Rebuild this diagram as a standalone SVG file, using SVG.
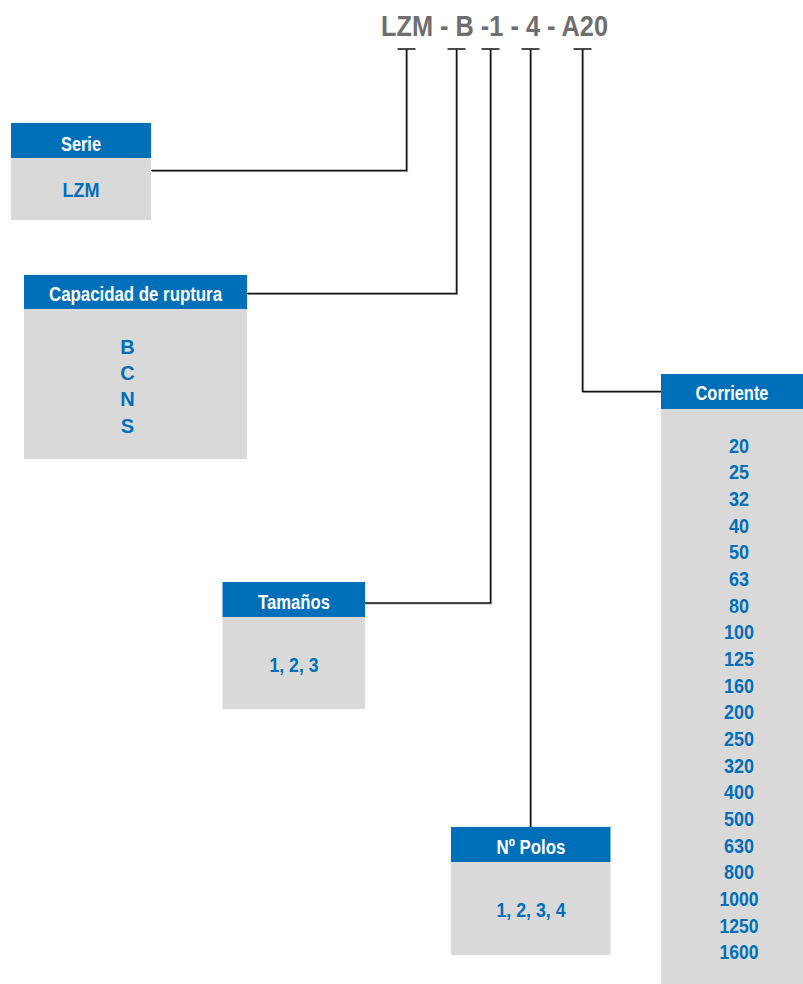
<svg xmlns="http://www.w3.org/2000/svg" width="803" height="984" viewBox="0 0 803 984">
<style>
.hd{fill:#006fba}
.bd{fill:#d9d9d9}
.ht{font-family:"Liberation Sans",Arial,sans-serif;font-weight:bold;font-size:20px;fill:#fff;text-anchor:middle}
.bt{font-family:"Liberation Sans",Arial,sans-serif;font-weight:bold;font-size:20px;fill:#006fba;text-anchor:middle}
.tt{font-family:"Liberation Sans",Arial,sans-serif;font-weight:bold;font-size:30px;fill:#6e6e6e}
.ln{fill:none;stroke:#111;stroke-width:1.5}
.sh{fill:none;stroke:#aaa;stroke-width:1.2}
</style>
<rect width="803" height="984" fill="#fff"/>
<g id="title">
<text class="tt" x="381" y="36" textLength="227" lengthAdjust="spacingAndGlyphs" xml:space="preserve">LZM - B -1 - 4 - A20</text>
</g>
<g id="connectors">
<polyline class="sh" points="152,171.5 407.5,171.5 407.5,50"/>
<polyline class="sh" points="248,294.5 457.5,294.5 457.5,50"/>
<polyline class="sh" points="366,604 491.5,604 491.5,50"/>
<polyline class="sh" points="531.5,827 531.5,50"/>
<polyline class="sh" points="661,392.5 583.5,392.5 583.5,50"/>
<polyline class="ln" points="151,170.5 406.5,170.5 406.5,49"/>
<polyline class="ln" points="247,293.5 456.5,293.5 456.5,49"/>
<polyline class="ln" points="365,603 490.5,603 490.5,49"/>
<polyline class="ln" points="530.5,827 530.5,49"/>
<polyline class="ln" points="661,391.5 582.5,391.5 582.5,49"/>
<line class="ln" x1="397.5" y1="49" x2="415.5" y2="49"/>
<line class="ln" x1="447.5" y1="49" x2="465.5" y2="49"/>
<line class="ln" x1="481.5" y1="49" x2="499.5" y2="49"/>
<line class="ln" x1="521.5" y1="49" x2="539.5" y2="49"/>
<line class="ln" x1="573.5" y1="49" x2="591.5" y2="49"/>
</g>
<g id="serie">
<rect class="hd" x="11" y="123" width="140" height="35"/>
<rect class="bd" x="11" y="158" width="140" height="62"/>
<text class="ht" x="81" y="150.5" textLength="40" lengthAdjust="spacingAndGlyphs">Serie</text>
<text class="bt" x="81" y="197" textLength="37" lengthAdjust="spacingAndGlyphs">LZM</text>
</g>
<g id="capacidad">
<rect class="hd" x="24" y="275" width="223" height="34"/>
<rect class="bd" x="24" y="309" width="223" height="150"/>
<text class="ht" x="135.5" y="300.5" textLength="173" lengthAdjust="spacingAndGlyphs">Capacidad de ruptura</text>
<text class="bt" x="127.5" y="353.5">B</text>
<text class="bt" x="127.5" y="380">C</text>
<text class="bt" x="127.5" y="406">N</text>
<text class="bt" x="127.5" y="432.5">S</text>
</g>
<g id="tamanos">
<rect class="hd" x="222.5" y="582" width="142.5" height="35"/>
<rect class="bd" x="222.5" y="617" width="142.5" height="92"/>
<text class="ht" x="294" y="608.5" textLength="72" lengthAdjust="spacingAndGlyphs">Tamaños</text>
<text class="bt" x="294" y="671.5" textLength="49" lengthAdjust="spacingAndGlyphs">1, 2, 3</text>
</g>
<g id="polos">
<rect class="hd" x="451" y="827" width="159.5" height="35"/>
<rect class="bd" x="451" y="862" width="159.5" height="93"/>
<text class="ht" x="531" y="853.5" textLength="69" lengthAdjust="spacingAndGlyphs">Nº Polos</text>
<text class="bt" x="531" y="916.5" textLength="69" lengthAdjust="spacingAndGlyphs">1, 2, 3, 4</text>
</g>
<g id="corriente">
<rect class="hd" x="661" y="374" width="142" height="35"/>
<rect class="bd" x="661" y="409" width="142" height="575"/>
<text class="ht" x="732" y="400" textLength="73" lengthAdjust="spacingAndGlyphs">Corriente</text>
<text class="bt" x="739" y="452.7" textLength="20" lengthAdjust="spacingAndGlyphs">20</text>
<text class="bt" x="739" y="479.4" textLength="20" lengthAdjust="spacingAndGlyphs">25</text>
<text class="bt" x="739" y="506" textLength="20" lengthAdjust="spacingAndGlyphs">32</text>
<text class="bt" x="739" y="532.7" textLength="20" lengthAdjust="spacingAndGlyphs">40</text>
<text class="bt" x="739" y="559.3" textLength="20" lengthAdjust="spacingAndGlyphs">50</text>
<text class="bt" x="739" y="586" textLength="20" lengthAdjust="spacingAndGlyphs">63</text>
<text class="bt" x="739" y="612.7" textLength="20" lengthAdjust="spacingAndGlyphs">80</text>
<text class="bt" x="739" y="639.3" textLength="30" lengthAdjust="spacingAndGlyphs">100</text>
<text class="bt" x="739" y="666" textLength="30" lengthAdjust="spacingAndGlyphs">125</text>
<text class="bt" x="739" y="692.6" textLength="30" lengthAdjust="spacingAndGlyphs">160</text>
<text class="bt" x="739" y="719.3" textLength="30" lengthAdjust="spacingAndGlyphs">200</text>
<text class="bt" x="739" y="746" textLength="30" lengthAdjust="spacingAndGlyphs">250</text>
<text class="bt" x="739" y="772.6" textLength="30" lengthAdjust="spacingAndGlyphs">320</text>
<text class="bt" x="739" y="799.3" textLength="30" lengthAdjust="spacingAndGlyphs">400</text>
<text class="bt" x="739" y="825.9" textLength="30" lengthAdjust="spacingAndGlyphs">500</text>
<text class="bt" x="739" y="852.6" textLength="30" lengthAdjust="spacingAndGlyphs">630</text>
<text class="bt" x="739" y="879.3" textLength="30" lengthAdjust="spacingAndGlyphs">800</text>
<text class="bt" x="739" y="905.9" textLength="39" lengthAdjust="spacingAndGlyphs">1000</text>
<text class="bt" x="739" y="932.6" textLength="39" lengthAdjust="spacingAndGlyphs">1250</text>
<text class="bt" x="739" y="959.3" textLength="39" lengthAdjust="spacingAndGlyphs">1600</text>
</g>
</svg>
